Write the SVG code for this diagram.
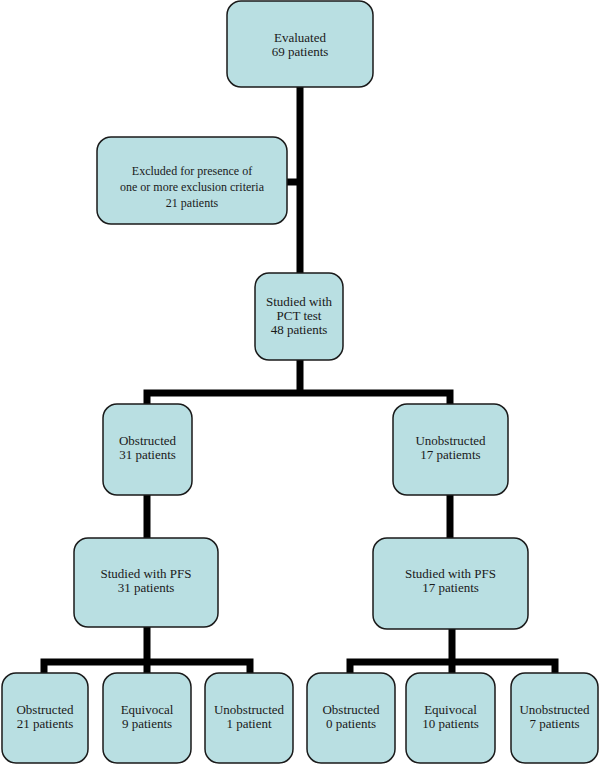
<svg xmlns="http://www.w3.org/2000/svg" width="600" height="765" viewBox="0 0 600 765">
<style>
.box{fill:#b9dfe2;stroke:#1a1a1a;stroke-width:1.5}
.t{font-family:"Liberation Serif","Times New Roman",serif;font-size:13px;fill:#1a1a1a;text-anchor:middle}
.s{font-size:12px}
.c{stroke:#000;stroke-width:7;fill:none;stroke-linecap:butt}
</style>
<rect width="600" height="765" fill="#fff"/>
<g id="connectors">
<path class="c" d="M300,87 V273"/>
<path class="c" d="M287,182 H300"/>
<path class="c" d="M300,360 V393 M147,404 V393 H450 V404"/>
<path class="c" d="M147,495 V538"/>
<path class="c" d="M450,495 V538"/>
<path class="c" d="M147,627 V662 M44,673 V662 H250 V673 M147,662 V673"/>
<path class="c" d="M452,629 V662 M350,673 V662 H555 V673 M452,662 V673"/>
</g>
<g id="evaluated"><rect class="box" x="227" y="1" width="146" height="86" rx="14"/>
<text class="t" x="300" y="42">Evaluated</text><text class="t" x="300" y="56">69 patients</text></g>
<g id="excluded"><rect class="box" x="97" y="137" width="190" height="87" rx="14"/>
<text class="t s" x="192" y="175">Excluded for presence of</text><text class="t s" x="192" y="191">one or more exclusion criteria</text><text class="t s" x="192" y="207">21 patients</text></g>
<g id="pct"><rect class="box" x="255" y="273" width="88" height="87" rx="14"/>
<text class="t" x="299" y="306">Studied with</text><text class="t" x="299" y="320">PCT test</text><text class="t" x="299" y="334">48 patients</text></g>
<g id="obstructed"><rect class="box" x="103" y="404" width="89" height="91" rx="14"/>
<text class="t" x="147.5" y="445">Obstructed</text><text class="t" x="147.5" y="459">31 patients</text></g>
<g id="unobstructed"><rect class="box" x="393" y="404" width="115" height="91" rx="14"/>
<text class="t" x="450.5" y="445">Unobstructed</text><text class="t" x="450.5" y="459">17 patiemts</text></g>
<g id="pfs-left"><rect class="box" x="74" y="538" width="144" height="89" rx="14"/>
<text class="t" x="146" y="578">Studied with PFS</text><text class="t" x="146" y="592">31 patients</text></g>
<g id="pfs-right"><rect class="box" x="373" y="538" width="155" height="91" rx="14"/>
<text class="t" x="450.5" y="578">Studied with PFS</text><text class="t" x="450.5" y="592">17 patients</text></g>
<g id="l-obstructed"><rect class="box" x="2" y="673" width="86" height="90" rx="14"/>
<text class="t" x="45" y="714">Obstructed</text><text class="t" x="45" y="728">21 patients</text></g>
<g id="l-equivocal"><rect class="box" x="103" y="673" width="88" height="90" rx="14"/>
<text class="t" x="147" y="714">Equivocal</text><text class="t" x="147" y="728">9 patients</text></g>
<g id="l-unobstructed"><rect class="box" x="205" y="673" width="88" height="90" rx="14"/>
<text class="t" x="249" y="714">Unobstructed</text><text class="t" x="249" y="728">1 patient</text></g>
<g id="r-obstructed"><rect class="box" x="307" y="673" width="88" height="90" rx="14"/>
<text class="t" x="351" y="714">Obstructed</text><text class="t" x="351" y="728">0 patients</text></g>
<g id="r-equivocal"><rect class="box" x="406" y="673" width="89" height="90" rx="14"/>
<text class="t" x="450.5" y="714">Equivocal</text><text class="t" x="450.5" y="728">10 patients</text></g>
<g id="r-unobstructed"><rect class="box" x="511" y="673" width="87" height="90" rx="14"/>
<text class="t" x="554.5" y="714">Unobstructed</text><text class="t" x="554.5" y="728">7 patients</text></g>
</svg>
